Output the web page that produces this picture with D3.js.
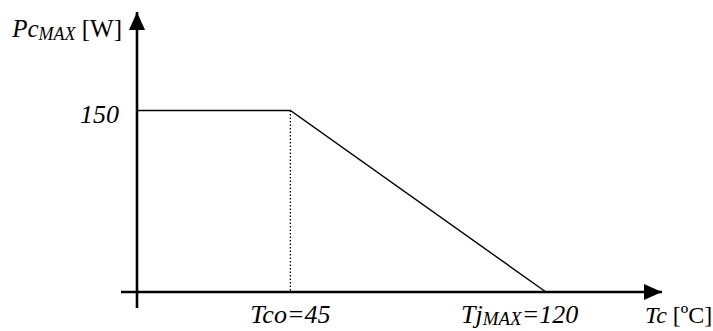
<!DOCTYPE html>
<html>
<head>
<meta charset="utf-8">
<script src="https://cdn.jsdelivr.net/npm/d3@7"></script>
<style>
  html, body { margin: 0; padding: 0; background: #fff; }
  svg { display: block; }
  text { font-family: "Liberation Serif", "Times New Roman", serif; fill: #000; }
</style>
</head>
<body>
<svg id="chart" width="713" height="331"></svg>
<script>
// ---- data ----
const tcValues = [0, 45, 120];          // case temperature Tc [ºC]
const pcValues = [150, 150, 0];         // max dissipated power Pc_MAX [W]
const tcoValue = 45;                    // knee temperature
const tjMaxValue = 120;                 // max junction temperature
const powerTick = 150;

const svg = d3.select("#chart");

// scales
const x = d3.scaleLinear().domain([0, 120]).range([137, 546]);
const y = d3.scaleLinear().domain([0, 150]).range([292, 110.5]);

// arrowheads
const defs = svg.append("defs");
defs.append("marker")
  .attr("id", "arrow")
  .attr("viewBox", "0 0 18 16")
  .attr("refX", 18).attr("refY", 8)
  .attr("markerWidth", 18).attr("markerHeight", 16)
  .attr("markerUnits", "userSpaceOnUse")
  .attr("orient", "auto")
  .append("path").attr("d", "M0,0 L18,8 L0,16 Z").attr("fill", "#000");

// axes
svg.append("line")
  .attr("x1", x(0) - 16).attr("x2", 662)
  .attr("y1", y(0)).attr("y2", y(0))
  .attr("stroke", "#000").attr("stroke-width", 2.6)
  .attr("marker-end", "url(#arrow)");
svg.append("line")
  .attr("x1", x(0)).attr("x2", x(0))
  .attr("y1", y(0) + 16).attr("y2", 12)
  .attr("stroke", "#000").attr("stroke-width", 2.6)
  .attr("marker-end", "url(#arrow)");

// dotted guide at Tco
svg.append("line")
  .attr("x1", x(tcoValue)).attr("x2", x(tcoValue))
  .attr("y1", y(150)).attr("y2", y(0))
  .attr("stroke", "#000").attr("stroke-width", 1.3)
  .attr("stroke-dasharray", "1.5,2");

// derating curve
const pts = tcValues.map((t, i) => [t, pcValues[i]]);
svg.append("path")
  .datum(pts)
  .attr("d", d3.line().x(d => x(d[0])).y(d => y(d[1])))
  .attr("fill", "none").attr("stroke", "#000").attr("stroke-width", 1.4);

// tick labels
svg.append("text")
  .attr("x", x(0) - 18).attr("y", y(powerTick) + 12)
  .attr("text-anchor", "end").attr("font-style", "italic").attr("font-size", 26)
  .text(String(powerTick));

svg.append("text")
  .attr("x", x(tcoValue)).attr("y", 323)
  .attr("text-anchor", "middle").attr("font-style", "italic").attr("font-size", 26)
  .text("Tco=" + tcoValue);

const tj = svg.append("text")
  .attr("x", x(tjMaxValue) - 85).attr("y", 323)
  .attr("font-style", "italic").attr("font-size", 26);
tj.append("tspan").text("Tj");
tj.append("tspan").attr("font-size", 19).attr("dy", 2).text("MAX");
tj.append("tspan").attr("dy", -2).text("=" + tjMaxValue);

// axis titles
const xl = svg.append("text").attr("x", 645).attr("y", 323).attr("font-size", 24);
xl.append("tspan").attr("font-style", "italic").text("Tc");
xl.append("tspan").text(" [ºC]");

const yl = svg.append("text").attr("x", 122).attr("y", 37)
  .attr("text-anchor", "end").attr("font-size", 25);
yl.append("tspan").attr("font-style", "italic").text("Pc");
yl.append("tspan").attr("font-style", "italic").attr("font-size", 18).attr("dy", 3).text("MAX");
yl.append("tspan").attr("dy", -3).text(" [W]");
</script>
</body>
</html>
